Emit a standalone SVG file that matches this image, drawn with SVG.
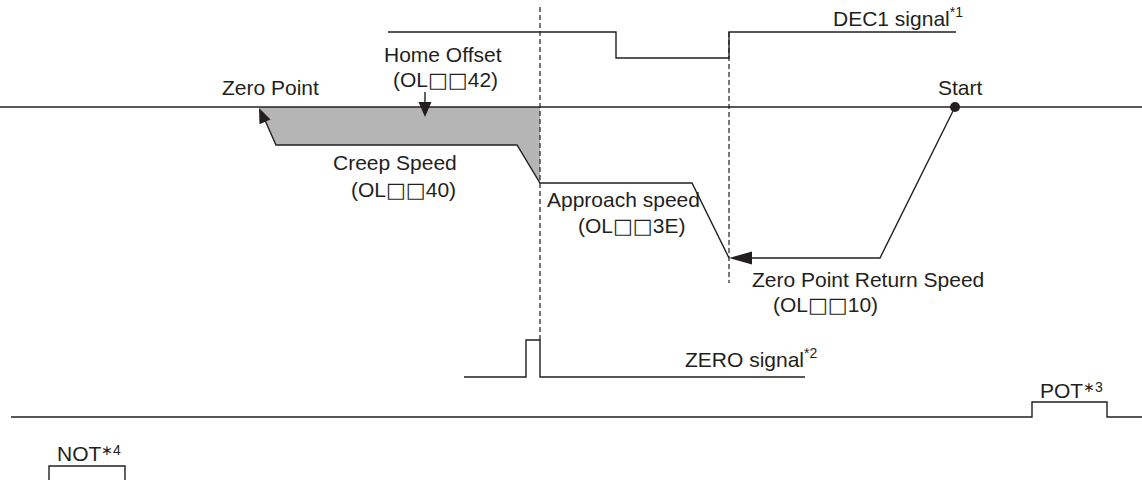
<svg xmlns="http://www.w3.org/2000/svg" width="1142" height="480" viewBox="0 0 1142 480">
<style>
.ln{fill:none;stroke:#231f20;stroke-width:1.4}
.dash{fill:none;stroke:#231f20;stroke-width:1.2;stroke-dasharray:5 3}
.ah{fill:#231f20;stroke:none}
text{font-family:"Liberation Sans","DejaVu Sans",Arial,sans-serif;font-size:21px;fill:#231f20}
.sup{font-size:14px}
.sq{font-family:"DejaVu Sans",sans-serif;font-size:21px;font-weight:bold}
</style>
<rect width="1142" height="480" fill="#ffffff"/>
<g id="shaded">
<polygon points="259,107 540,107 540,183 517,145 276,145" fill="#b5b5b5"/>
</g>
<g id="axes">
<line class="ln" x1="0" y1="107" x2="1142" y2="107"/>
<polyline class="ln" points="388,32 616,32 616,58 729,58 729,32 956,32"/>
<polyline class="ln" points="464,377 526,377 526,340 540,340 540,377 805,377"/>
<polyline class="ln" points="11,417 1032,417 1032,402 1107,402 1107,417 1142,417"/>
<polyline class="ln" points="49,480 49,466 125,466 125,480"/>
</g>
<g id="dashes">
<line class="dash" x1="540" y1="7" x2="540" y2="340"/>
<line class="dash" x1="729" y1="32" x2="729" y2="283"/>
</g>
<g id="connectors">
<polyline class="ln" points="955,107 880,258 745,258"/>
<polygon class="ah" points="729,258 752,251.5 752,264.5"/>
<polyline class="ln" points="729,258 692,183 540,183 517,145 276,145 264,118"/>
<polygon class="ah" points="259,108 270.5,119.4 259.5,124.2"/>
<line class="ln" x1="425" y1="92" x2="425" y2="104"/>
<polygon class="ah" points="425,117 418.5,102 431.5,102"/>
<circle cx="955" cy="107" r="5" fill="#231f20"/>
</g>
<g id="labels">
<text x="833" y="26">DEC1 signal<tspan class="sup" dy="-9">*1</tspan></text>
<text x="222" y="95">Zero Point</text>
<text x="384" y="62">Home Offset</text>
<text x="393" y="87">(OL<tspan class="sq">□□</tspan>42)</text>
<text x="333" y="170">Creep Speed</text>
<text x="351" y="197">(OL<tspan class="sq">□□</tspan>40)</text>
<text x="547" y="207">Approach speed</text>
<text x="578" y="233">(OL<tspan class="sq">□□</tspan>3E)</text>
<text x="938" y="95">Start</text>
<text x="752" y="287">Zero Point Return Speed</text>
<text x="773" y="312">(OL<tspan class="sq">□□</tspan>10)</text>
<text x="685" y="367">ZERO signal<tspan class="sup" dy="-9">*2</tspan></text>
<text x="1040" y="398">POT<tspan class="sup" dy="-6">∗3</tspan></text>
<text x="57" y="461">NOT<tspan class="sup" dy="-6">∗4</tspan></text>
</g>
</svg>
